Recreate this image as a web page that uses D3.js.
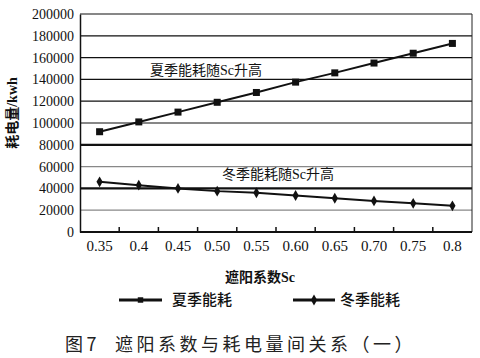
<!DOCTYPE html>
<html>
<head>
<meta charset="utf-8">
<script src="https://cdn.jsdelivr.net/npm/d3@7"></script>
<style>
  body { margin: 0; background: #fff; }
</style>
</head>
<body>
<svg id="chart" width="480" height="358"></svg>
<script>
// data
const categories = ['0.35', '0.4', '0.45', '0.50', '0.55', '0.60', '0.65', '0.70', '0.75', '0.8'];
const summer = [92000, 101000, 110000, 119000, 128000, 137500, 146000, 155000, 164000, 173000];
const winter = [46000, 43000, 40000, 37500, 36000, 33500, 31000, 28500, 26300, 24000];
const yTicks = [0, 20000, 40000, 60000, 80000, 100000, 120000, 140000, 160000, 180000, 200000];

const SERIF = '"Liberation Serif"';
const CJK = '"Noto Sans CJK SC"';
const MIXED = '"Liberation Serif", "Noto Sans CJK SC"';

const svg = d3.select('#chart');
const plotL = 80, plotR = 472, plotT = 14, plotB = 232;

const x = d3.scaleBand().domain(categories).range([plotL, plotR]);
const y = d3.scaleLinear().domain([0, 200000]).range([plotB, plotT]);

// grid lines
svg.append('g').selectAll('line')
  .data(yTicks.filter(d => d > 0))
  .join('line')
  .attr('x1', plotL).attr('x2', plotR)
  .attr('y1', d => y(d)).attr('y2', d => y(d))
  .attr('stroke', d => (d === 60000 || d === 20000) ? '#888' : '#111')
  .attr('stroke-width', d => (d === 80000 || d === 40000) ? 2.2 : 1.2);

// right border
svg.append('line')
  .attr('x1', plotR).attr('x2', plotR).attr('y1', plotT).attr('y2', plotB)
  .attr('stroke', '#222').attr('stroke-width', 1);

// y axis
const yAxis = svg.append('g')
  .attr('transform', `translate(${plotL},0)`)
  .call(d3.axisLeft(y).tickValues(yTicks).tickSize(0).tickPadding(6).tickFormat(d3.format('d')));
yAxis.attr('font-family', null).attr('font-size', null);
yAxis.select('.domain').attr('stroke', '#111').attr('stroke-width', 1.5);
yAxis.selectAll('text')
  .style('font-family', SERIF, 'important').style('font-size', '14px').attr('fill', '#111');

// x axis: ticks at band boundaries, pointing inward
svg.append('line')
  .attr('x1', plotL).attr('x2', plotR).attr('y1', plotB).attr('y2', plotB)
  .attr('stroke', '#111').attr('stroke-width', 2);
svg.append('g').selectAll('line')
  .data(categories.slice(1))
  .join('line')
  .attr('x1', d => x(d)).attr('x2', d => x(d))
  .attr('y1', plotB).attr('y2', plotB - 5)
  .attr('stroke', '#111').attr('stroke-width', 1.5);
svg.append('g').selectAll('text')
  .data(categories)
  .join('text')
  .attr('x', d => x(d) + x.bandwidth() / 2)
  .attr('y', plotB + 19)
  .attr('text-anchor', 'middle')
  .style('font-family', SERIF, 'important').style('font-size', '15px').attr('fill', '#111')
  .text(d => d);

const cx = (d, i) => x(categories[i]) + x.bandwidth() / 2;
const line = d3.line().x((d, i) => cx(d, i)).y(d => y(d));

// series lines
svg.append('path').datum(summer).attr('d', line)
  .attr('fill', 'none').attr('stroke', '#111').attr('stroke-width', 2);
svg.append('path').datum(winter).attr('d', line)
  .attr('fill', 'none').attr('stroke', '#111').attr('stroke-width', 2);

// markers
svg.append('g').selectAll('rect')
  .data(summer)
  .join('rect')
  .attr('x', (d, i) => cx(d, i) - 3.5).attr('y', d => y(d) - 3.5)
  .attr('width', 7).attr('height', 7).attr('fill', '#111');
svg.append('g').selectAll('path')
  .data(winter)
  .join('path')
  .attr('d', d3.symbol().type(d3.symbolDiamond).size(34))
  .attr('transform', (d, i) => `translate(${cx(d, i)},${y(d)})`)
  .attr('fill', '#111');

// annotations
svg.append('text').attr('x', 150).attr('y', 75)
  .style('font-family', MIXED, 'important').style('font-size', '14px').attr('fill', '#111')
  .text('夏季能耗随Sc升高');
svg.append('text').attr('x', 222).attr('y', 179)
  .style('font-family', MIXED, 'important').style('font-size', '14px').attr('fill', '#111')
  .text('冬季能耗随Sc升高');

// axis titles
svg.append('text')
  .attr('transform', 'translate(17,113) rotate(-90)')
  .attr('text-anchor', 'middle')
  .style('font-family', MIXED, 'important').style('font-size', '14px').style('font-weight', 'bold')
  .attr('fill', '#111')
  .text('耗电量/kwh');
svg.append('text').attr('x', 260).attr('y', 282).attr('text-anchor', 'middle')
  .style('font-family', MIXED, 'important').style('font-size', '14px').style('font-weight', 'bold')
  .attr('fill', '#111')
  .text('遮阳系数Sc');

// legend
const legend = [
  { name: '夏季能耗', x1: 119, x2: 162, tx: 172, mark: 'square' },
  { name: '冬季能耗', x1: 293, x2: 335, tx: 340, mark: 'diamond' }
];
const lg = svg.append('g').selectAll('g').data(legend).join('g');
lg.append('line')
  .attr('x1', d => d.x1).attr('x2', d => d.x2).attr('y1', 300).attr('y2', 300)
  .attr('stroke', '#111').attr('stroke-width', 3);
lg.append('path')
  .attr('d', d => d3.symbol().type(d.mark === 'square' ? d3.symbolSquare : d3.symbolDiamond).size(d.mark === 'square' ? 30 : 34)())
  .attr('transform', d => `translate(${(d.x1 + d.x2) / 2},300)`)
  .attr('fill', '#111');
lg.append('text')
  .attr('x', d => d.tx).attr('y', 305)
  .style('font-family', CJK).style('font-size', '15px').style('font-weight', 500)
  .attr('fill', '#111')
  .text(d => d.name);

// caption
svg.append('text').attr('x', 65).attr('y', 351)
  .style('font-family', CJK).style('font-size', '18px')
  .style('letter-spacing', '3.5px').style('white-space', 'pre')
  .attr('fill', '#222')
  .text('图7  遮阳系数与耗电量间关系（一）');
</script>
</body>
</html>
